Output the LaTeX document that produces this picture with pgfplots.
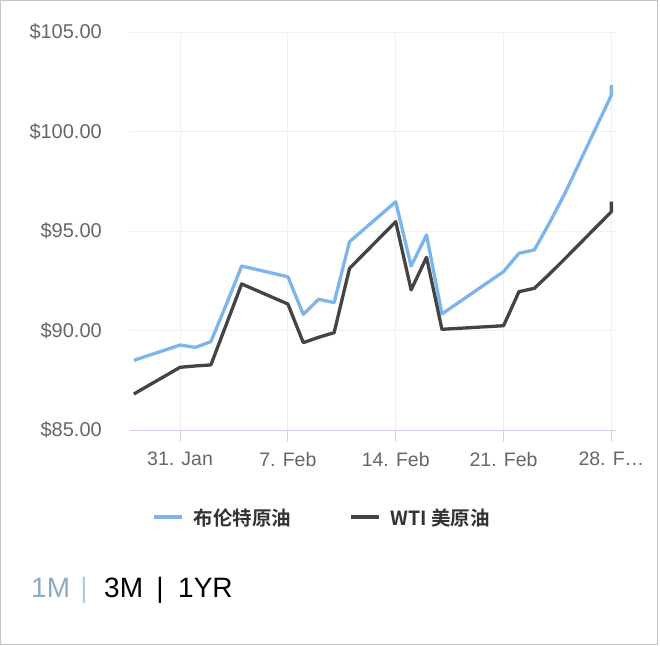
\documentclass[border=0pt]{standalone}
\usepackage{pgfplots}
\pgfplotsset{compat=1.18}
\usepackage{fontspec}
\setmainfont{Liberation Sans}
\newfontfamily\cjk{Noto Sans CJK SC}[BoldFont={* Bold}]

\definecolor{brent}{HTML}{7CB5EC}
\definecolor{wti}{HTML}{434348}
\definecolor{axisblue}{HTML}{CCD6EB}
\definecolor{labelgray}{HTML}{666666}
\definecolor{gridgray}{HTML}{F0F0F0}
\definecolor{legtext}{HTML}{333333}
\definecolor{onem}{HTML}{8AAAC8}
\definecolor{onembar}{HTML}{A9CBE6}

\begin{document}
\begin{tikzpicture}[x=1pt,y=1pt]
\begin{axis}[
  at={(130pt,215pt)}, anchor=south west,
  scale only axis, width=486pt, height=398pt,
  xmin=-3.25, xmax=28.3, ymin=85, ymax=105,
  axis x line*=bottom, axis y line*=left,
  x axis line style={draw=axisblue, line width=1pt, -},
  y axis line style={draw=none},
  xtick={0,7,14,21,28},
  xticklabels={31. Jan, 7. Feb, 14. Feb, 21. Feb, 28. F…},
  ytick={85,90,95,100,105},
  yticklabels={\$85.00,\$90.00,\$95.00,\$100.00,\$105.00},
  tick align=outside, major tick length=12pt,
  xtick style={draw=axisblue, line width=1pt},
  ytick style={draw=none},
  grid=major, grid style={draw=gridgray, line width=0.8pt},
  xticklabel style={font=\fontsize{19.5}{22}\selectfont, text=labelgray, inner sep=0pt, anchor=north, yshift=-10pt},
  yticklabel style={font=\fontsize{20}{22}\selectfont, text=labelgray, inner sep=0pt, anchor=east, xshift=-16pt},
  legend style={at={(0.393,-0.2186)}, anchor=center, draw=none, fill=none,
    font=\cjk\bfseries\fontsize{19.5}{22}\selectfont, text=legtext,
    /tikz/every even column/.append style={column sep=58pt},
    nodes={inner sep=0pt, text depth=0pt}},
  legend columns=2,
  legend image code/.code={\draw[#1, line width=3.2pt] (0pt,0pt) -- (28pt,0pt);},
  legend cell align=left,
]
\addplot[brent, line width=3.3pt, line join=round] coordinates {
(-3,88.50) (0,89.27) (1,89.15) (2,89.44) (3,91.3) (4,93.24)
(7,92.70) (8,90.81) (9,91.57) (10,91.40) (11,94.46)
(14,96.47) (15,93.24) (16,94.80) (17,90.83)
(21,92.96) (22,93.88) (23,94.05) (24,95.43) (25,96.92)
(28,101.83) (28,102.34)
};
\addlegendentry{\hspace{10pt}布伦特原油}
\addplot[wti, line width=3.3pt, line join=round] coordinates {
(-3,86.81) (0,88.15) (1,88.22) (2,88.27) (3,90.3) (4,92.34)
(7,91.33) (8,89.39) (9,89.66) (10,89.89) (11,93.12)
(14,95.47) (15,92.04) (16,93.68) (17,90.06)
(21,90.24) (22,91.95) (23,92.12) (24,92.85) (25,93.62)
(28,95.97) (28,96.47)
};
\addlegendentry{\hspace{10pt}WTI 美原油}
\end{axis}
\begin{scope}[every node/.style={inner sep=0pt, font=\fontsize{28}{32}\selectfont}]
\node[anchor=base west, text=onem] at (31,48) {1M};
\node[anchor=base, text=onembar] at (84,48) {|};
\node[anchor=base west, text=black] at (104,48) {3M};
\node[anchor=base, text=black] at (160,48) {|};
\node[anchor=base west, text=black] at (178,48) {1YR};
\end{scope}
\draw[gray!45, line width=1pt] (0.5,0.5) rectangle (657.5,644.5);
\pgfresetboundingbox
\path[use as bounding box] (0,0) rectangle (660,645);
\end{tikzpicture}
\end{document}
